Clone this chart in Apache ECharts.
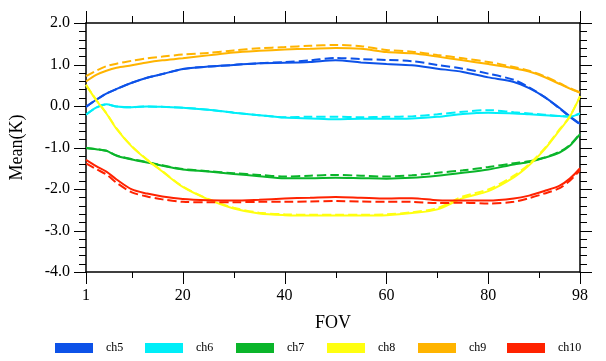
<!DOCTYPE html>
<html>
<head>
<meta charset="utf-8">
<script src="https://cdn.jsdelivr.net/npm/echarts@6/dist/echarts.min.js"></script>
<style>html,body{margin:0;padding:0;background:#fff;}#c{width:606px;height:361px;}</style>
</head>
<body>
<div id="c"></div>
<script>
var fov = [1,3,5,7,10,13,16,20,25,30,35,40,45,50,55,60,65,70,75,80,85,88,91,94,96,98];

var ch5  = [-0.02,0.15,0.30,0.41,0.56,0.68,0.77,0.89,0.95,0.99,1.03,1.04,1.06,1.10,1.05,1.01,0.98,0.90,0.82,0.69,0.58,0.43,0.22,-0.05,-0.25,-0.43];
var ch5d = [-0.02,0.15,0.30,0.41,0.56,0.68,0.77,0.89,0.95,0.99,1.03,1.06,1.10,1.16,1.13,1.11,1.08,0.99,0.90,0.78,0.63,0.45,0.22,-0.06,-0.26,-0.44];
var ch6  = [-0.21,-0.04,0.04,-0.01,-0.03,-0.01,-0.02,-0.04,-0.09,-0.16,-0.22,-0.28,-0.30,-0.32,-0.31,-0.31,-0.30,-0.26,-0.19,-0.16,-0.18,-0.20,-0.22,-0.24,-0.26,-0.18];
var ch6d = [-0.21,-0.04,0.04,-0.01,-0.03,-0.01,-0.02,-0.04,-0.09,-0.16,-0.22,-0.27,-0.26,-0.26,-0.27,-0.26,-0.25,-0.20,-0.14,-0.10,-0.15,-0.18,-0.21,-0.24,-0.25,-0.18];
var ch7  = [-1.01,-1.04,-1.08,-1.20,-1.29,-1.36,-1.44,-1.53,-1.58,-1.64,-1.69,-1.74,-1.74,-1.73,-1.74,-1.75,-1.73,-1.68,-1.61,-1.53,-1.41,-1.35,-1.25,-1.12,-0.96,-0.68];
var ch7d = [-1.01,-1.04,-1.08,-1.19,-1.28,-1.35,-1.43,-1.52,-1.57,-1.62,-1.66,-1.70,-1.68,-1.66,-1.68,-1.70,-1.67,-1.61,-1.55,-1.47,-1.38,-1.33,-1.24,-1.10,-0.94,-0.66];
var ch8  = [0.51,0.14,-0.18,-0.55,-0.98,-1.30,-1.58,-1.95,-2.25,-2.47,-2.59,-2.63,-2.64,-2.64,-2.64,-2.63,-2.58,-2.49,-2.22,-2.05,-1.72,-1.43,-1.05,-0.58,-0.26,0.23];
var ch8d = [0.51,0.15,-0.17,-0.54,-0.97,-1.29,-1.57,-1.94,-2.24,-2.45,-2.57,-2.61,-2.62,-2.62,-2.62,-2.61,-2.56,-2.46,-2.18,-2.01,-1.68,-1.40,-1.03,-0.56,-0.25,0.24];
var ch9  = [0.59,0.75,0.85,0.92,0.98,1.05,1.10,1.15,1.22,1.29,1.33,1.36,1.38,1.40,1.38,1.30,1.27,1.19,1.10,1.01,0.91,0.83,0.70,0.53,0.42,0.32];
var ch9d = [0.72,0.85,0.96,1.02,1.09,1.15,1.19,1.24,1.28,1.34,1.39,1.42,1.45,1.47,1.44,1.35,1.31,1.23,1.15,1.06,0.94,0.85,0.72,0.55,0.43,0.33];
var ch10  = [-1.30,-1.45,-1.58,-1.77,-2.01,-2.11,-2.18,-2.24,-2.27,-2.28,-2.26,-2.23,-2.21,-2.19,-2.21,-2.23,-2.22,-2.27,-2.28,-2.28,-2.23,-2.16,-2.05,-1.92,-1.75,-1.50];
var ch10d = [-1.38,-1.52,-1.65,-1.85,-2.08,-2.18,-2.25,-2.31,-2.32,-2.32,-2.31,-2.31,-2.30,-2.29,-2.30,-2.31,-2.31,-2.34,-2.33,-2.35,-2.31,-2.22,-2.11,-1.98,-1.80,-1.55];

var xMajorTicks = [1,20,40,60,80,98];
var xMinorTicks = [10,30,50,70,90];
var yMajorTicks = [-4,-3,-2,-1,0,1,2];
var yMinorStep = 0.2;
var names = ['ch5','ch6','ch7','ch8','ch9','ch10'];
var colors = ['#0d52e8','#00eef8','#0ab52a','#ffff10','#ffb400','#ff2200'];
var solid = [ch5,ch6,ch7,ch8,ch9,ch10];
var dashed = [ch5d,ch6d,ch7d,ch8d,ch9d,ch10d];
var legendLeft = [55,145,236,327,418,507];

var X_MIN = 1, X_MAX = 98, Y_MIN = -4, Y_MAX = 2;
var FONT = 'Liberation Serif';
function pairs(v){ return fov.map(function(f,i){ return [f, v[i]]; }); }

// tick items: [x, y, isYTick, isMajor] — drawn through the axes' own coordinate mapping
var tickItems = [];
xMajorTicks.forEach(function(v){ tickItems.push([v, Y_MIN, 0, 1]); });
xMinorTicks.forEach(function(v){ tickItems.push([v, Y_MIN, 0, 0]); });
yMajorTicks.forEach(function(v){ tickItems.push([X_MIN, v, 1, 1]); });
for (var k = 0; k < yMajorTicks.length - 1; k++) {
  for (var j = 1; j < 5; j++) {
    tickItems.push([X_MIN, +(yMajorTicks[k] + j * yMinorStep).toFixed(2), 1, 0]);
  }
}

function crisp(a){ return Math.round(a) + 0.5; }
function renderTick(params, api){
  var isY = api.value(2) === 1, major = api.value(3) === 1;
  var L = major ? 12 : 7;
  var segs = [];
  if (!isY) {
    var v = api.value(0);
    var b = api.coord([v, Y_MIN]), t = api.coord([v, Y_MAX]);
    var x = crisp(b[0]);
    segs.push([x, b[1], x, b[1] + (major ? 12 : 6)]);
    segs.push([x, t[1], x, t[1] - L]);
  } else {
    var w = api.value(1);
    var l = api.coord([X_MIN, w]), r = api.coord([X_MAX, w]);
    var y = crisp(l[1]);
    segs.push([l[0] - L, y, l[0], y]);
    segs.push([r[0], y, r[0] + L, y]);
  }
  return {type:'group', children: segs.map(function(s){
    return {type:'line', shape:{x1:s[0], y1:s[1], x2:s[2], y2:s[3]}, style:{stroke:'#000', lineWidth:1}};
  })};
}

var series = [];
names.forEach(function(n,i){
  series.push({name:n+' dashed', type:'line', data:pairs(dashed[i]), showSymbol:false, smooth:0.3,
    color:colors[i], lineStyle:{color:colors[i], width:2, type:[9,4]}});
  series.push({name:n, type:'line', data:pairs(solid[i]), showSymbol:false, smooth:0.3,
    color:colors[i], lineStyle:{color:colors[i], width:2}});
});
series.push({type:'custom', name:'axis ticks', data:tickItems, renderItem:renderTick, clip:false,
  silent:true, z:5, encode:{x:0, y:1}});

function axLine(){ return {show:true, onZero:false, lineStyle:{color:'#000', width:1.5}}; }

var chart = echarts.init(document.getElementById('c'));
chart.setOption({
  animation:false,
  grid:{left:85, right:26, top:23, bottom:89},
  xAxis:[
    {type:'value', min:X_MIN, max:X_MAX, position:'bottom', axisLine:axLine(), axisTick:{show:false},
     axisLabel:{show:true, customValues:xMajorTicks, margin:16, color:'#000', fontFamily:FONT, fontSize:16},
     splitLine:{show:false},
     name:'FOV', nameLocation:'middle', nameGap:42, nameTextStyle:{color:'#000', fontFamily:FONT, fontSize:18}},
    {type:'value', min:X_MIN, max:X_MAX, position:'top', axisLine:axLine(), axisTick:{show:false},
     axisLabel:{show:false}, splitLine:{show:false}}
  ],
  yAxis:[
    {type:'value', min:Y_MIN, max:Y_MAX, interval:1, position:'left', axisLine:axLine(), axisTick:{show:false},
     axisLabel:{show:true, margin:16, color:'#000', fontFamily:FONT, fontSize:16,
       formatter:function(v){ return v.toFixed(1); }},
     splitLine:{show:false},
     name:'Mean(K)', nameLocation:'middle', nameGap:60, nameTextStyle:{color:'#000', fontFamily:FONT, fontSize:18}},
    {type:'value', min:Y_MIN, max:Y_MAX, interval:1, position:'right', axisLine:axLine(), axisTick:{show:false},
     axisLabel:{show:false}, splitLine:{show:false}}
  ],
  legend:names.map(function(n,i){
    return {data:[n], icon:'rect', left:legendLeft[i], top:342, padding:0, itemWidth:38, itemHeight:10,
      textStyle:{color:'#000', fontFamily:FONT, fontSize:12, padding:[0,0,0,8]}};
  }),
  series:series
});
</script>
</body>
</html>
